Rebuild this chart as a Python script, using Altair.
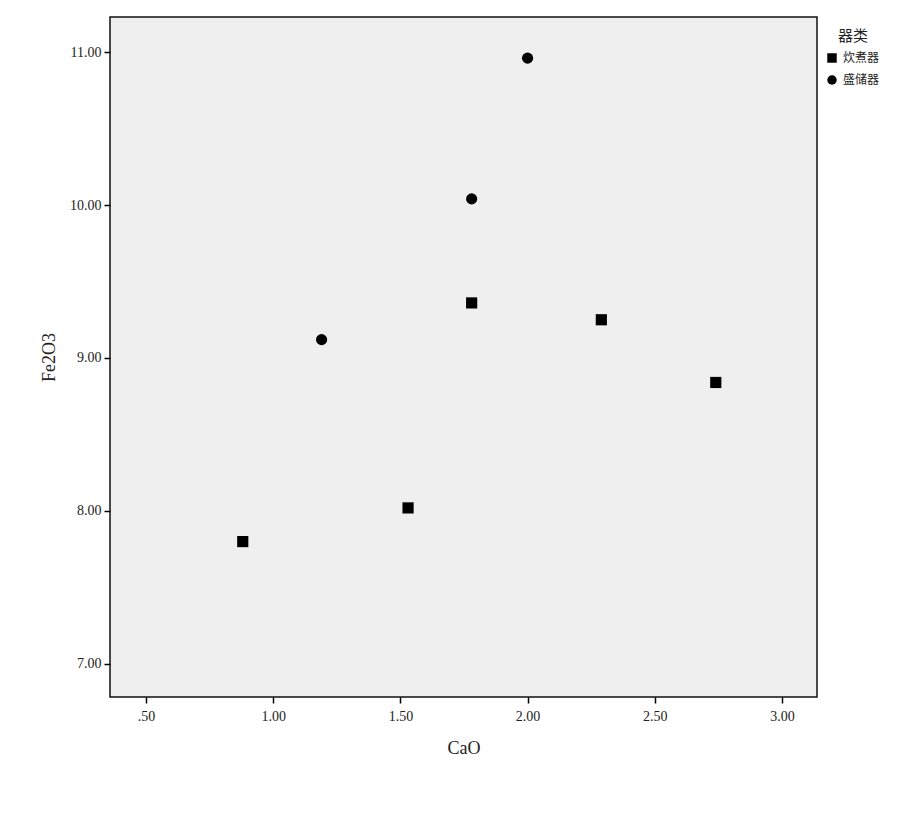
import altair as alt
import pandas as pd

cao = [0.88, 1.53, 1.78, 2.29, 2.74, 1.19, 1.78, 2.00]
fe2o3 = [7.80, 8.02, 9.36, 9.25, 8.84, 9.12, 10.04, 10.96]
group = ["炊煮器", "炊煮器", "炊煮器", "炊煮器", "炊煮器", "盛储器", "盛储器", "盛储器"]
categories = ["炊煮器", "盛储器"]
x_ticks = [0.5, 1.0, 1.5, 2.0, 2.5, 3.0]
y_ticks = [7.0, 8.0, 9.0, 10.0, 11.0]

df = pd.DataFrame({"CaO": cao, "Fe2O3": fe2o3, "器类": group})

serif = "Liberation Serif"
cjk = "Noto Sans CJK SC"

chart = alt.Chart(df).mark_point(filled=True, opacity=1, color="black", size=125).encode(
    x=alt.X("CaO:Q",
            scale=alt.Scale(domain=[0.358, 3.138], nice=False, zero=False),
            axis=alt.Axis(values=x_ticks, title="CaO", grid=False, domain=False,
                          tickColor="black", tickWidth=1.5, tickSize=6,
                          labelFont=serif, labelFontSize=14, labelColor="#222",
                          labelPadding=6, titleFont=serif, titleFontSize=18,
                          titleFontWeight="normal", titleColor="#222", titlePadding=16,
                          labelExpr="datum.value < 1 ? substring(format(datum.value, '.2f'), 1) : format(datum.value, '.2f')")),
    y=alt.Y("Fe2O3:Q",
            scale=alt.Scale(domain=[6.784, 11.229], nice=False, zero=False),
            axis=alt.Axis(values=y_ticks, title="Fe2O3", grid=False, domain=False,
                          tickColor="black", tickWidth=1.5, tickSize=6,
                          labelFont=serif, labelFontSize=14, labelColor="#222",
                          labelPadding=3, titleFont=serif, titleFontSize=18,
                          titleFontWeight="normal", titleColor="#222", titlePadding=11,
                          format=".2f")),
    shape=alt.Shape("器类:N",
                    scale=alt.Scale(domain=categories, range=["square", "circle"]),
                    legend=alt.Legend(title="器类", orient="none", legendX=716, legendY=12,
                                      titleFont=cjk, titleFontSize=15, titleFontWeight="normal",
                                      titleColor="#222", titleAnchor="middle", titlePadding=8,
                                      labelFont=cjk, labelFontSize=12, labelColor="#222",
                                      symbolFillColor="black", symbolStrokeColor="black",
                                      symbolSize=90, rowPadding=6, labelOffset=5)),
).properties(
    width=707, height=680,
    autosize=alt.AutoSizeParams(type="none"),
    padding={"left": 102, "top": 9, "right": 70, "bottom": 110},
    background="white",
).configure_view(
    fill="#efefef", stroke="#111", strokeWidth=1.5
)

chart.save("out.html", embed_options={"renderer": "svg", "actions": False})
